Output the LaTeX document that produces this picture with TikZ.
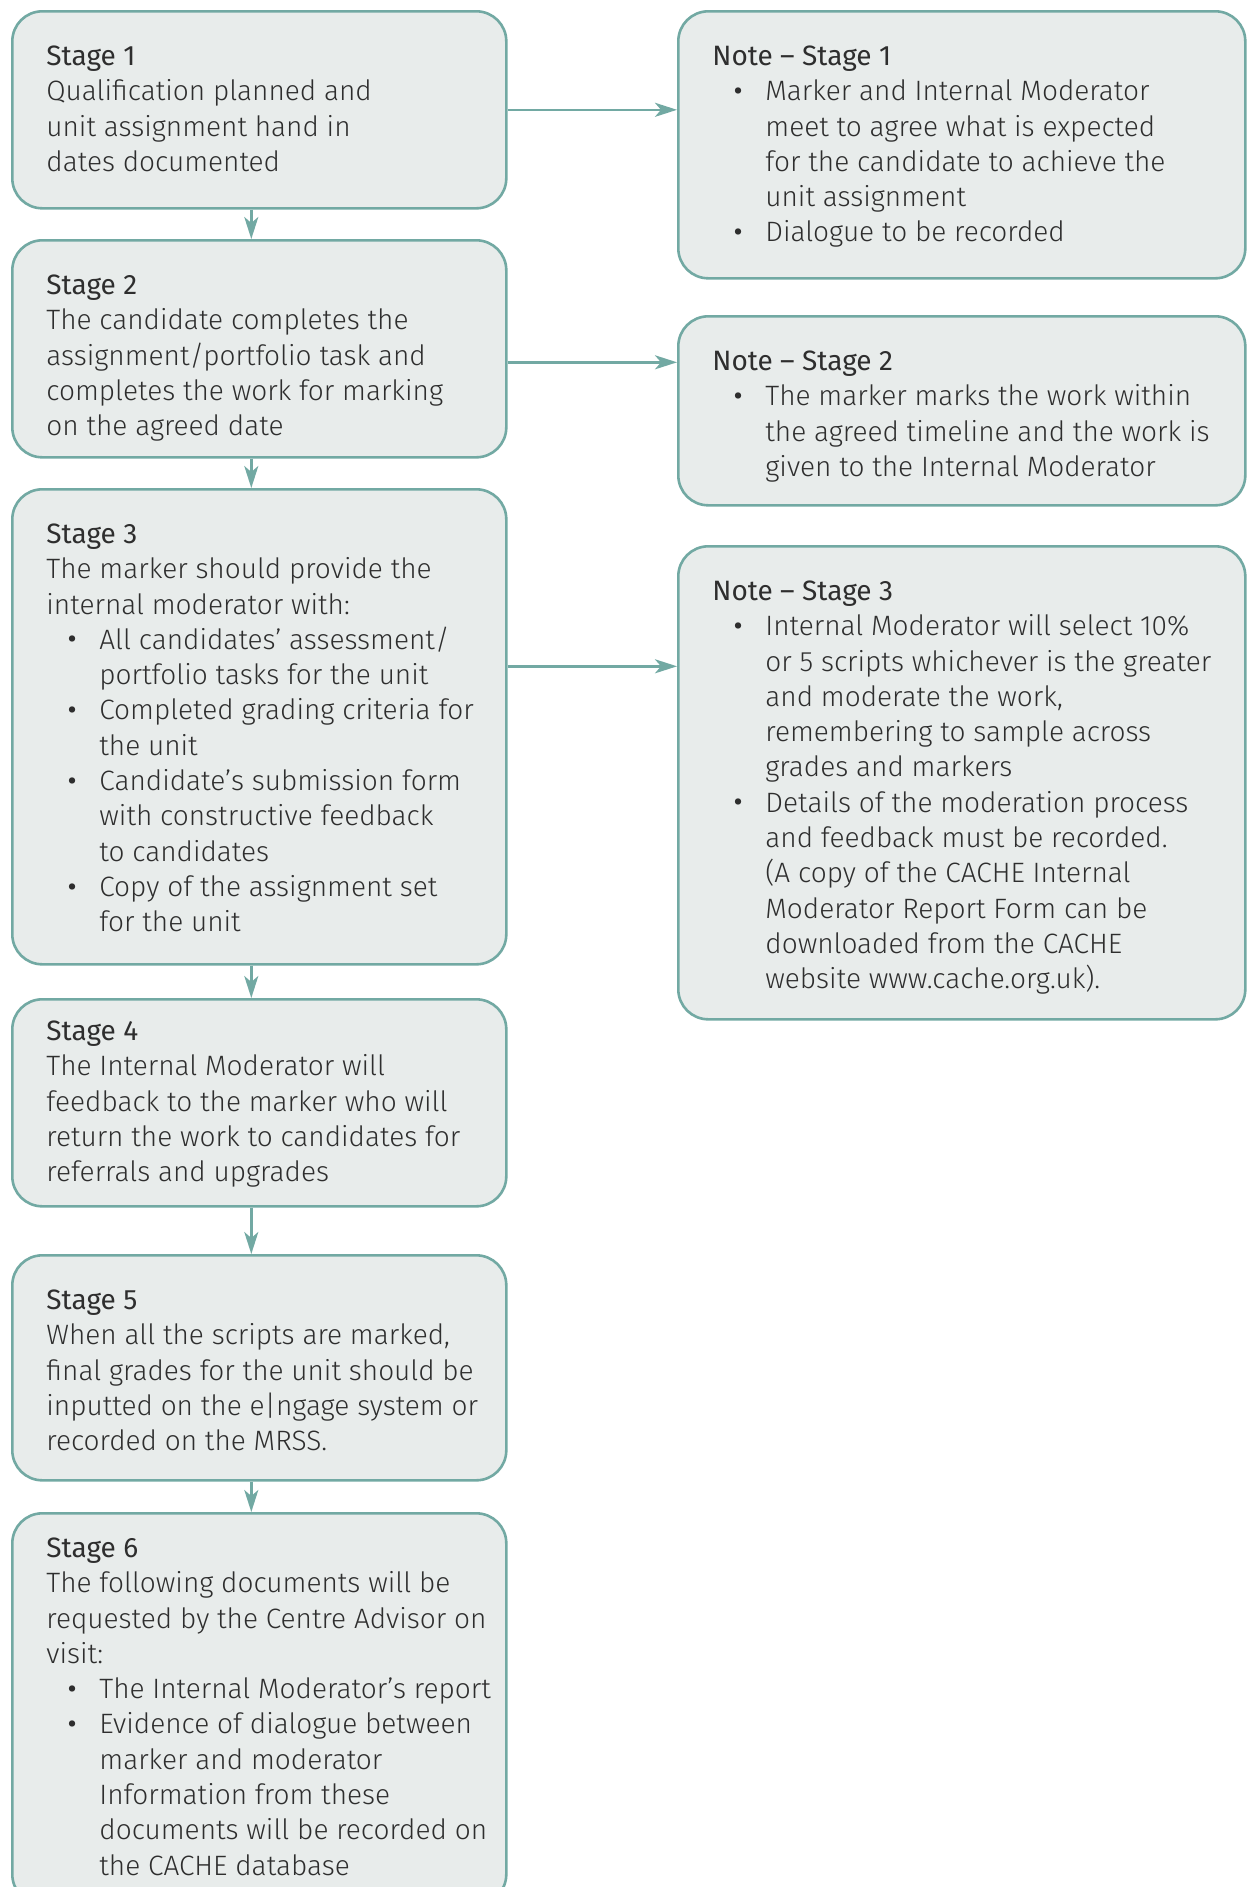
\documentclass[tikz,border=0pt]{standalone}
\usepackage{fontspec}
\setmainfont{Fira Sans Light}[BoldFont={Fira Sans}]
\usetikzlibrary{arrows.meta,positioning}

\definecolor{teal}{HTML}{72A9A3}
\definecolor{panel}{HTML}{E8ECEB}
\definecolor{ink}{HTML}{2E2E2E}

\newcommand{\bitem}{\makebox[26.5pt][l]{\hspace{10pt}\raisebox{-2.3pt}{\scalebox{1.5}{\textbullet}}}}
\newcommand{\bcont}{\hspace*{26.5pt}}
\newcommand{\head}[1]{\rule{0pt}{12pt}\textbf{#1}}

\begin{document}
\begin{tikzpicture}[
  x=0.5pt,y=-0.5pt,
  stagebox/.style={draw=teal,fill=panel,line width=1.3pt,rounded corners=15pt,
    minimum width=247pt,anchor=north west,inner sep=0pt},
  notebox/.style={stagebox,minimum width=283.5pt},
  txt/.style={anchor=north west,align=left,inner sep=0pt,text=ink,
    font=\fontsize{14}{17.65}\selectfont},
  flow/.style={teal,line width=1.3pt,-{Stealth[length=11pt,width=7pt,inset=3pt]}}
]
  \useasboundingbox[fill=white] (0,0) rectangle (1250,1887);

  % left column
  \node[stagebox,minimum height=98.5pt] (s1) at (11,10) {};
  \node[stagebox,minimum height=108.5pt] (s2) at (11,239) {};
  \node[stagebox,minimum height=237.5pt] (s3) at (11,488) {};
  \node[stagebox,minimum height=103.5pt] (s4) at (11,998) {};
  \node[stagebox,minimum height=112.5pt] (s5) at (11,1254) {};
  \node[stagebox,minimum height=195.5pt] (s6) at (11,1512) {};

  % right column
  \node[notebox,minimum height=133.5pt] (n1) at (677,10) {};
  \node[notebox,minimum height=94.5pt] (n2) at (677,315) {};
  \node[notebox,minimum height=236.5pt] (n3) at (677,545) {};

  % texts
  \node[txt] (t1) at ([xshift=17.5pt,yshift=-15.5pt]s1.north west)
    {\head{Stage 1}\\Qualification planned and\\unit assignment hand in\\dates documented};
  \node[txt] (t2) at ([xshift=17.5pt,yshift=-15.5pt]s2.north west)
    {\head{Stage 2}\\The candidate completes the\\assignment/portfolio task and\\completes the work for marking\\on the agreed date};
  \node[txt] (t3) at ([xshift=17.5pt,yshift=-15.5pt]s3.north west)
    {\head{Stage 3}\\The marker should provide the\\internal moderator with:\\
     \bitem All candidates’ assessment/\\\bcont portfolio tasks for the unit\\
     \bitem Completed grading criteria for\\\bcont the unit\\
     \bitem Candidate’s submission form\\\bcont with constructive feedback\\\bcont to candidates\\
     \bitem Copy of the assignment set\\\bcont for the unit};
  \node[txt] (t4) at ([xshift=17.5pt,yshift=-9pt]s4.north west)
    {\head{Stage 4}\\The Internal Moderator will\\feedback to the marker who will\\return the work to candidates for\\referrals and upgrades};
  \node[txt] (t5) at ([xshift=17.5pt,yshift=-15.5pt]s5.north west)
    {\head{Stage 5}\\When all the scripts are marked,\\final grades for the unit should be\\inputted on the e|ngage system or\\recorded on the MRSS.};
  \node[txt] (t6) at ([xshift=17.5pt,yshift=-10.5pt]s6.north west)
    {\head{Stage 6}\\The following documents will be\\requested by the Centre Advisor on\\visit:\\
     \bitem The Internal Moderator’s report\\
     \bitem Evidence of dialogue between\\\bcont marker and moderator\\\bcont Information from these\\\bcont documents will be recorded on\\\bcont the CACHE database};

  \node[txt] (u1) at ([xshift=17.5pt,yshift=-15.5pt]n1.north west)
    {\head{Note – Stage 1}\\
     \bitem Marker and Internal Moderator\\\bcont meet to agree what is expected\\\bcont for the candidate to achieve the\\\bcont unit assignment\\
     \bitem Dialogue to be recorded};
  \node[txt] (u2) at ([xshift=17.5pt,yshift=-15.5pt]n2.north west)
    {\head{Note – Stage 2}\\
     \bitem The marker marks the work within\\\bcont the agreed timeline and the work is\\\bcont given to the Internal Moderator};
  \node[txt] (u3) at ([xshift=17.5pt,yshift=-15.5pt]n3.north west)
    {\head{Note – Stage 3}\\
     \bitem Internal Moderator will select 10\%\\\bcont or 5 scripts whichever is the greater\\\bcont and moderate the work,\\\bcont remembering to sample across\\\bcont grades and markers\\
     \bitem Details of the moderation process\\\bcont and feedback must be recorded.\\\bcont (A copy of the CACHE Internal\\\bcont Moderator Report Form can be\\\bcont downloaded from the CACHE\\\bcont website www.cache.org.uk).};

  % connectors
  \foreach \a/\b in {s1/s2,s2/s3,s3/s4,s4/s5,s5/s6}
    \draw[flow] ([xshift=-4pt]\a.south) -- ([xshift=-4pt]\b.north);
  \draw[flow] (s1.east) -- (s1.east -| n1.west);
  \draw[flow] ([yshift=-6.75pt]s2.east) -- ([yshift=-6.75pt]s2.east -| n2.west);
  \draw[flow] ([yshift=30.25pt]s3.east) -- ([yshift=30.25pt]s3.east -| n3.west);
\end{tikzpicture}
\end{document}
